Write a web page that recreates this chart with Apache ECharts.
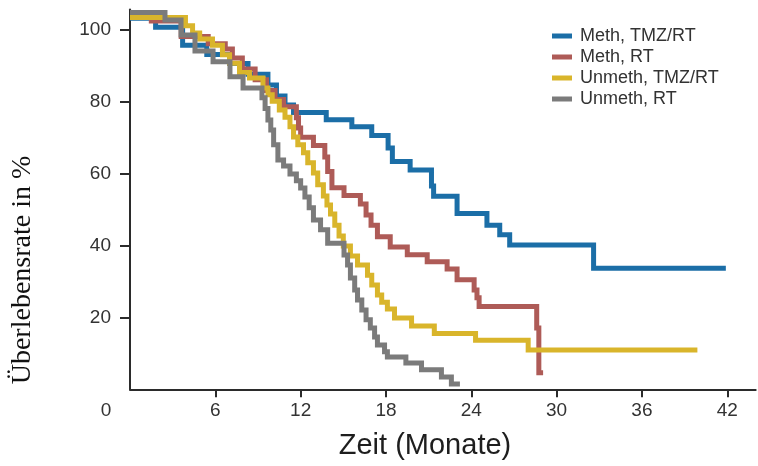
<!DOCTYPE html>
<html>
<head>
<meta charset="utf-8">
<script src="https://cdn.jsdelivr.net/npm/echarts@6/dist/echarts.min.js"></script>
<style>
  html, body { margin: 0; padding: 0; background: #ffffff; }
  #chart { width: 758px; height: 466px; }
</style>
</head>
<body>
<div id="chart"></div>
<script>
// Kaplan-Meier survival curves: time in months, survival in percent.
const groupNames = ['Meth, TMZ/RT', 'Meth, RT', 'Unmeth, TMZ/RT', 'Unmeth, RT'];
const groupColors = ['#1b6ea7', '#ae5b57', '#d9b52b', '#7b7b7b'];

const methTmzMonths = [0, 1.8, 3.7, 5.4, 7.0, 8.3, 9.7, 10.3, 10.9, 11.5, 13.8, 15.6, 17.0, 18.15, 18.45, 19.7, 21.2, 21.35, 23.0, 25.1, 26.0, 26.7, 32.6, 41.9];
const methTmzSurvival = [103.1, 100.6, 95.6, 93, 90.5, 87.5, 84.5, 81.5, 79, 76.9, 74.9, 72.9, 70.5, 67, 63.3, 60.9, 56.5, 53.6, 48.8, 45.6, 42.9, 40.1, 33.6, 33.6];

const methRtMonths = [0, 1.5, 3.6, 5.5, 6.7, 7.2, 7.9, 8.8, 9.6, 10.2, 10.8, 11.7, 11.85, 12.0, 12.9, 13.7, 13.9, 14.2, 15.05, 16.2, 16.6, 16.95, 17.4, 18.3, 19.5, 20.9, 22.3, 23.0, 24.2, 24.4, 24.55, 28.6, 28.75, 29.05];
const methRtSurvival = [103.8, 102.3, 98, 96, 94.5, 92, 89, 86, 83, 80.5, 78.5, 75.4, 72.6, 70, 67.7, 64.5, 60.5, 56, 53.8, 51.5, 48.4, 45.6, 42.4, 39.5, 37.4, 35.4, 33.4, 30.4, 27.6, 25.4, 23, 17, 4.6, 4.6];

const unmethTmzMonths = [0, 3.9, 4.4, 4.9, 5.8, 6.5, 7.0, 7.7, 8.4, 9.35, 9.7, 10.0, 10.5, 10.9, 11.25, 11.5, 11.8, 12.2, 12.5, 12.9, 13.2, 13.6, 13.85, 14.1, 14.4, 14.7, 15.0, 15.5, 16.0, 16.7, 17.0, 17.4, 17.7, 18.1, 18.6, 19.8, 21.4, 24.3, 28.0, 39.9];
const unmethTmzSurvival = [103.3, 101, 99, 97.3, 95.6, 92.9, 90.6, 88, 86.5, 83.7, 81.8, 80, 77.6, 75.6, 72.9, 70.1, 67.9, 65.7, 62.9, 60.1, 56.8, 53.7, 51.2, 48.7, 45.6, 42.6, 39.8, 37, 34.5, 31.7, 29, 26.2, 24.2, 22.3, 19.8, 17.6, 15.5, 13.6, 10.9, 10.9];

const unmethRtMonths = [0, 2.46, 3.59, 4.57, 5.84, 7.03, 7.95, 9.28, 9.5, 9.7, 9.9, 10.1, 10.4, 10.8, 11.25, 11.7, 12.0, 12.3, 12.6, 12.9, 13.4, 13.9, 15.05, 15.3, 15.5, 15.8, 16.0, 16.3, 16.6, 16.9, 17.2, 17.4, 17.9, 18.1, 19.4, 20.5, 21.9, 22.6, 23.2];
const unmethRtSurvival = [104.7, 102.6, 98.4, 94, 91, 86.8, 83.7, 81, 78, 74.8, 72, 67.9, 63.7, 62, 59.8, 57.9, 55.9, 53.4, 50.4, 47, 44.3, 40.6, 37.3, 34.5, 30.9, 27.6, 24.8, 22, 19.3, 17, 14.5, 12.3, 10.4, 9, 7.3, 5.4, 3.4, 1.5, 1.5];

const xTickValues = [6, 12, 18, 24, 30, 36, 42];
const yTickValues = [20, 40, 60, 80, 100];

const monthsList = [methTmzMonths, methRtMonths, unmethTmzMonths, unmethRtMonths];
const survivalList = [methTmzSurvival, methRtSurvival, unmethTmzSurvival, unmethRtSurvival];

const axisColor = '#2b2b2b';
const labelColor = '#333333';
const sansFont = 'Arial, "Liberation Sans", sans-serif';

const series = groupNames.map((name, i) => ({
  name: name,
  type: 'line',
  step: 'end',
  symbol: 'none',
  clip: false,
  data: monthsList[i].map((m, k) => [m, survivalList[i][k]]),
  itemStyle: { color: groupColors[i] },
  lineStyle: { color: groupColors[i], width: 5, cap: 'butt', join: 'miter' },
  emphasis: { disabled: true },
  z: 2 + i
}));

const chart = echarts.init(document.getElementById('chart'), null, { renderer: 'canvas' });
chart.setOption({
  animation: false,
  backgroundColor: '#ffffff',
  grid: { left: 130, right: 2.3, top: 9.5, bottom: 76.7, containLabel: false },
  xAxis: {
    type: 'value',
    min: 0,
    max: 44,
    splitLine: { show: false },
    axisLine: { show: true, onZero: false, lineStyle: { color: axisColor, width: 2 } },
    axisTick: { show: true, customValues: xTickValues, length: 8, lineStyle: { color: axisColor, width: 2 } },
    axisLabel: { customValues: xTickValues, margin: 12, color: labelColor, fontSize: 19, fontFamily: sansFont }
  },
  yAxis: {
    type: 'value',
    min: 0,
    max: 105.5,
    splitLine: { show: false },
    axisLine: { show: true, onZero: false, lineStyle: { color: axisColor, width: 2 } },
    axisTick: { show: true, customValues: yTickValues, length: 10, lineStyle: { color: axisColor, width: 2 } },
    axisLabel: { customValues: yTickValues, margin: 19, color: labelColor, fontSize: 19, fontFamily: sansFont }
  },
  legend: {
    orient: 'vertical',
    left: 547,
    top: 22,
    itemGap: 3,
    itemWidth: 20,
    itemHeight: 5,
    icon: 'rect',
    data: groupNames,
    textStyle: { color: labelColor, fontSize: 18, fontFamily: sansFont, padding: [0, 0, 0, 3] }
  },
  graphic: [
    {
      type: 'text', x: 106, y: 411,
      style: { text: '0', font: '19px ' + sansFont, fill: labelColor, align: 'center', verticalAlign: 'middle' }
    },
    {
      type: 'text', x: 425, y: 446,
      style: { text: 'Zeit (Monate)', font: '29px ' + sansFont, fill: '#1e1e1e', align: 'center', verticalAlign: 'middle' }
    },
    {
      type: 'text', x: 23, y: 270, rotation: Math.PI / 2,
      style: { text: 'Überlebensrate in %', font: '28px "Liberation Serif", "Times New Roman", serif', fill: '#111111', align: 'center', verticalAlign: 'middle' }
    }
  ],
  series: series
});
</script>
</body>
</html>
